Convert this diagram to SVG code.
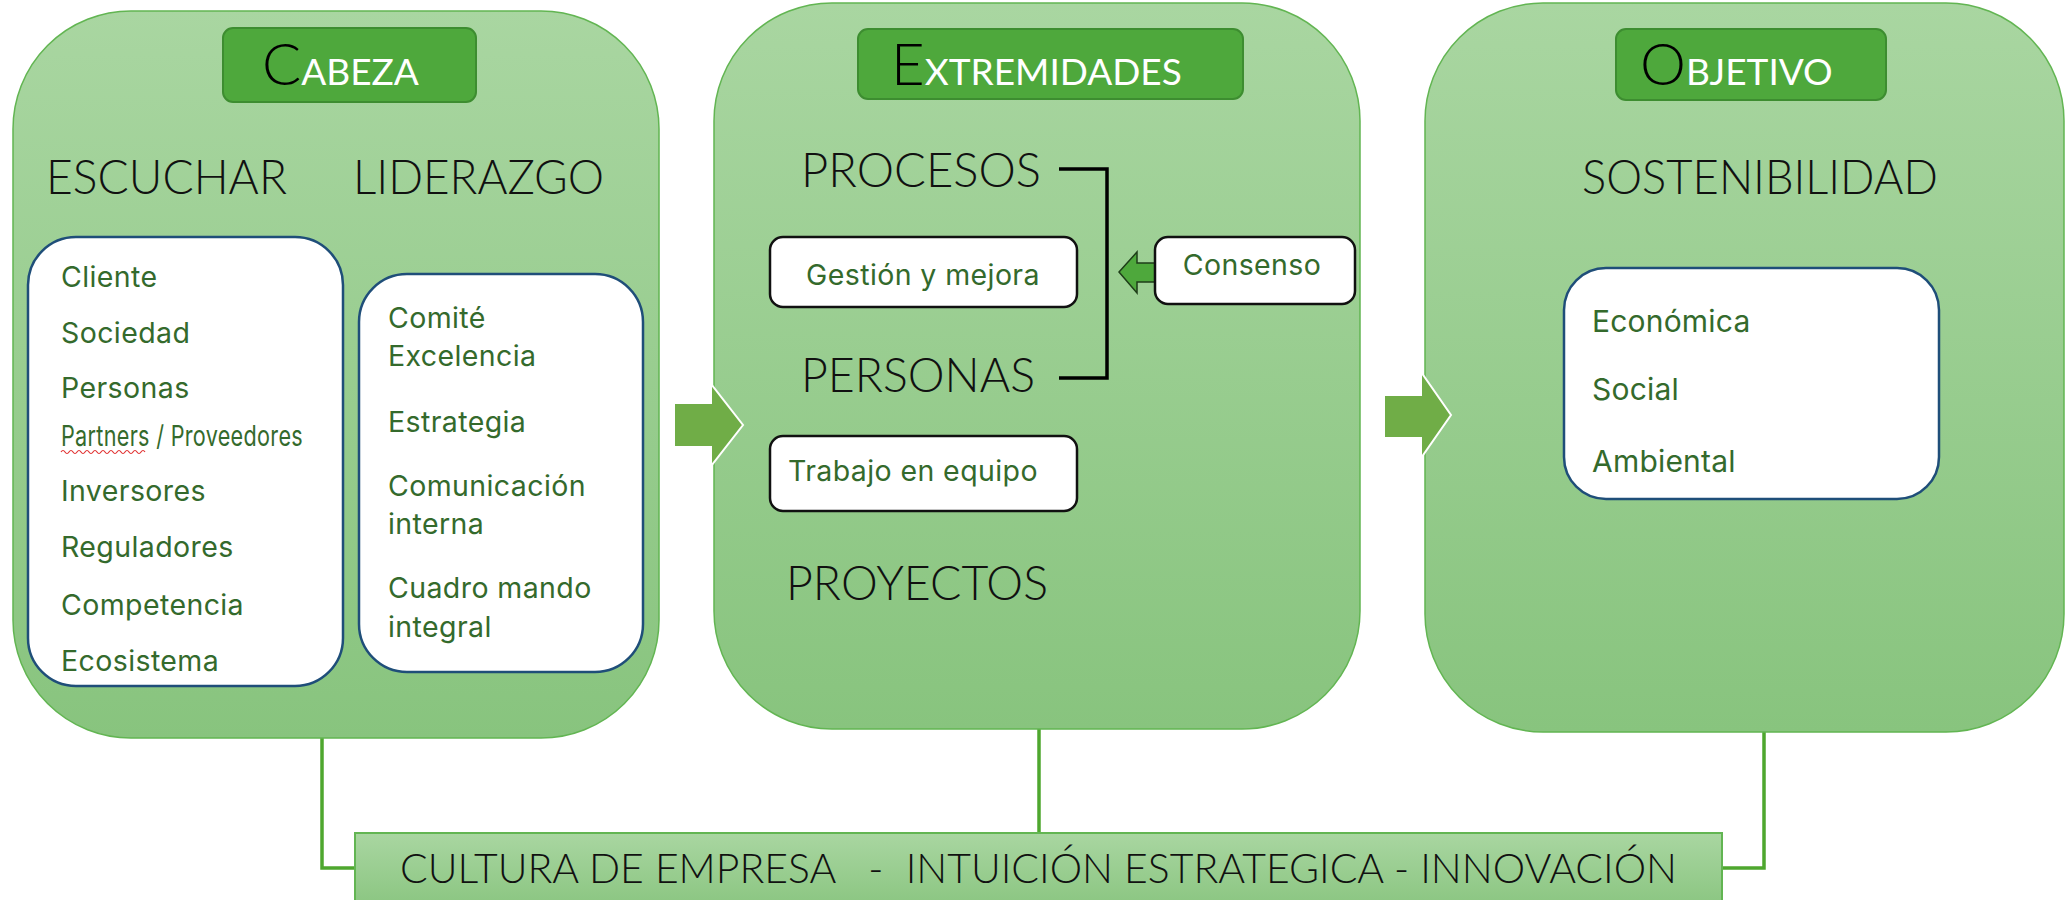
<svg xmlns="http://www.w3.org/2000/svg" width="2067" height="900" viewBox="0 0 2067 900">
<defs>
<linearGradient id="pg" x1="0" y1="0" x2="0" y2="1">
<stop offset="0" stop-color="#a9d6a1"/>
<stop offset="1" stop-color="#88c47e"/>
</linearGradient>
<style>
.panel{fill:url(#pg);stroke:#62b552;stroke-width:1.5}
.tbox{fill:#4ea83c;stroke:#3d8d30;stroke-width:2}
.tbig{font-family:Lato,"Open Sans",sans-serif;font-weight:300;font-size:58px;fill:#000}
.tsm{font-family:Lato,"Open Sans",sans-serif;font-weight:400;font-size:37px;fill:#fff}
.lab{font-family:Lato,"Open Sans",sans-serif;font-weight:300;font-size:47px;fill:#111}
.wbox{fill:#fff;stroke:#1f4e79;stroke-width:2.5}
.bbox{fill:#fff;stroke:#111;stroke-width:2.5}
.it{font-family:Inter,Roboto,sans-serif;font-size:28.5px;letter-spacing:0.4px;fill:#346a2c}
.it3{font-family:Inter,Roboto,sans-serif;font-size:30px;letter-spacing:0.2px;fill:#346a2c}
.bar{font-family:Lato,"Open Sans",sans-serif;font-weight:300;font-size:42px;fill:#111}
.conn{fill:none;stroke:#4ea72e;stroke-width:3.5}
.bigarrow{fill:#70ad47;stroke:#fff;stroke-width:2}
</style>
</defs>
<rect width="2067" height="900" fill="#fff"/>

<g id="connectors">
<path class="conn" d="M322 738 V868 H356"/>
<path class="conn" d="M1039 729 V834"/>
<path class="conn" d="M1764 732 V868 H1722"/>
</g>

<g id="cabeza">
<rect class="panel" x="13" y="11" width="646" height="727" rx="118" ry="118"/>
<rect class="tbox" x="223" y="28" width="253" height="74" rx="10"/>
<text x="262" y="85"><tspan class="tbig">C</tspan><tspan class="tsm">ABEZA</tspan></text>
<text class="lab" x="46" y="194" textLength="241" lengthAdjust="spacingAndGlyphs">ESCUCHAR</text>
<text class="lab" x="353" y="194" textLength="251" lengthAdjust="spacingAndGlyphs">LIDERAZGO</text>
</g>

<g id="escuchar-list">
<rect class="wbox" x="28" y="237" width="315" height="449" rx="48"/>
<text class="it" x="61" y="287">Cliente</text>
<text class="it" x="61" y="343">Sociedad</text>
<text class="it" x="61" y="398">Personas</text>
<text class="it" x="61" y="446" font-size="21" letter-spacing="0" textLength="242" lengthAdjust="spacingAndGlyphs">Partners / Proveedores</text>
<path d="M61 452 q2 -3 4 0 t4 0 t4 0 t4 0 t4 0 t4 0 t4 0 t4 0 t4 0 t4 0 t4 0 t4 0 t4 0 t4 0 t4 0 t4 0 t4 0 t4 0 t4 0 t4 0 t4 0" fill="none" stroke="#e03030" stroke-width="1.2"/>
<text class="it" x="61" y="501">Inversores</text>
<text class="it" x="61" y="557">Reguladores</text>
<text class="it" x="61" y="615">Competencia</text>
<text class="it" x="61" y="671">Ecosistema</text>
</g>

<g id="liderazgo-list">
<rect class="wbox" x="359" y="274" width="284" height="398" rx="48"/>
<text class="it" x="388" y="328">Comité</text>
<text class="it" x="388" y="366">Excelencia</text>
<text class="it" x="388" y="432">Estrategia</text>
<text class="it" x="388" y="496">Comunicación</text>
<text class="it" x="388" y="534">interna</text>
<text class="it" x="388" y="598">Cuadro mando</text>
<text class="it" x="388" y="637">integral</text>
</g>

<g id="extremidades">
<rect class="panel" x="714" y="3" width="646" height="726" rx="118" ry="118"/>
<rect class="tbox" x="858" y="29" width="385" height="70" rx="10"/>
<text x="891" y="85"><tspan class="tbig">E</tspan><tspan class="tsm">XTREMIDADES</tspan></text>
<text class="lab" x="801" y="187" textLength="240" lengthAdjust="spacingAndGlyphs">PROCESOS</text>
<text class="lab" x="801" y="392" textLength="234" lengthAdjust="spacingAndGlyphs">PERSONAS</text>
<text class="lab" x="786" y="600" textLength="262" lengthAdjust="spacingAndGlyphs">PROYECTOS</text>
<path d="M1059 169 H1107 V378 H1059" fill="none" stroke="#000" stroke-width="3.5"/>
</g>

<g id="arrow1">
<path class="bigarrow" d="M674 403 H711 V384 L743 425 L711 466 V447 H674 Z"/>
</g>

<g id="gestion">
<rect class="bbox" x="770" y="237" width="307" height="70" rx="13"/>
<text class="it" x="923" y="285" text-anchor="middle">Gestión y mejora</text>
</g>

<g id="consenso">
<path d="M1157 263 H1137 V252 L1119 272 L1137 293 V282 H1157 Z" fill="#4ea83c" stroke="#1e3d18" stroke-width="1.5"/>
<rect class="bbox" x="1155" y="237" width="200" height="67" rx="13"/>
<text class="it" x="1252" y="275" text-anchor="middle">Consenso</text>
</g>

<g id="trabajo">
<rect class="bbox" x="770" y="436" width="307" height="75" rx="13"/>
<text class="it" x="788" y="481">Trabajo en equipo</text>
</g>

<g id="objetivo">
<rect class="panel" x="1425" y="3" width="639" height="729" rx="118" ry="118"/>
<rect class="tbox" x="1616" y="29" width="270" height="71" rx="10"/>
<text x="1640" y="85"><tspan class="tbig">O</tspan><tspan class="tsm">BJETIVO</tspan></text>
<text class="lab" x="1582" y="194" textLength="356" lengthAdjust="spacingAndGlyphs">SOSTENIBILIDAD</text>
</g>

<g id="arrow2">
<path class="bigarrow" d="M1384 395 H1421 V372 L1451 415 L1421 458 V438 H1384 Z"/>
</g>

<g id="sostenibilidad-list">
<rect class="wbox" x="1564" y="268" width="375" height="231" rx="42"/>
<text class="it3" x="1592" y="332">Económica</text>
<text class="it3" x="1592" y="400">Social</text>
<text class="it3" x="1592" y="472">Ambiental</text>
</g>

<g id="cultura">
<rect x="355" y="833" width="1367" height="80" fill="url(#pg)" stroke="#62b552" stroke-width="2"/>
<text class="bar" x="400" y="883" textLength="1277" lengthAdjust="spacingAndGlyphs" xml:space="preserve">CULTURA DE EMPRESA   -  INTUICIÓN ESTRATEGICA - INNOVACIÓN</text>
</g>
</svg>
